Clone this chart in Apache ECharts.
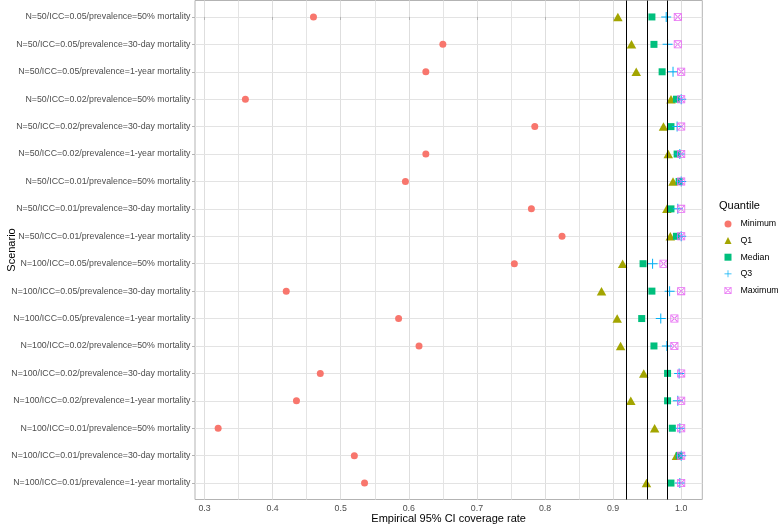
<!DOCTYPE html>
<html><head><meta charset="utf-8">
<script src="https://cdn.jsdelivr.net/npm/echarts@6/dist/echarts.min.js"></script>
<style>html,body{margin:0;padding:0;background:#fff}#c{width:778px;height:525px}</style>
</head><body><div id="c"></div>
<script>
const scenarios = [
  'N=50/ICC=0.05/prevalence=50% mortality',
  'N=50/ICC=0.05/prevalence=30-day mortality',
  'N=50/ICC=0.05/prevalence=1-year mortality',
  'N=50/ICC=0.02/prevalence=50% mortality',
  'N=50/ICC=0.02/prevalence=30-day mortality',
  'N=50/ICC=0.02/prevalence=1-year mortality',
  'N=50/ICC=0.01/prevalence=50% mortality',
  'N=50/ICC=0.01/prevalence=30-day mortality',
  'N=50/ICC=0.01/prevalence=1-year mortality',
  'N=100/ICC=0.05/prevalence=50% mortality',
  'N=100/ICC=0.05/prevalence=30-day mortality',
  'N=100/ICC=0.05/prevalence=1-year mortality',
  'N=100/ICC=0.02/prevalence=50% mortality',
  'N=100/ICC=0.02/prevalence=30-day mortality',
  'N=100/ICC=0.02/prevalence=1-year mortality',
  'N=100/ICC=0.01/prevalence=50% mortality',
  'N=100/ICC=0.01/prevalence=30-day mortality',
  'N=100/ICC=0.01/prevalence=1-year mortality'
];
const minimum = [0.460,0.650,0.625,0.360,0.785,0.625,0.595,0.780,0.825,0.755,0.420,0.585,0.615,0.470,0.435,0.320,0.520,0.535];
const q1      = [0.907,0.927,0.934,0.985,0.974,0.981,0.988,0.979,0.984,0.914,0.883,0.906,0.911,0.945,0.926,0.961,0.993,0.949];
const median  = [0.957,0.960,0.972,0.993,0.985,0.994,0.997,0.985,0.993,0.944,0.957,0.942,0.960,0.980,0.980,0.987,0.997,0.985];
const q3      = [0.978,0.980,0.988,1.000,0.994,0.998,1.000,0.995,1.000,0.958,0.983,0.970,0.979,0.997,0.995,0.998,1.000,0.998];
const maximum = [0.995,0.995,1.000,1.000,1.000,1.000,1.000,1.000,1.000,0.974,1.000,0.990,0.990,1.000,1.000,1.000,1.000,1.000];
const xTicks = [0.3,0.4,0.5,0.6,0.7,0.8,0.9,1.0];
const xMinor = [0.35,0.45,0.55,0.65,0.75,0.85,0.95];
const thresholds = [0.92,0.95,0.98];

const FONT = 'Liberation Sans, Arial, Helvetica, sans-serif';
const plusPath = 'path://M4.5,0h1v10h-1z M0,4.5h10v1h-10z';
const boxXPath = 'path://M0,0H10V10H0Z M1,1V9H9V1Z M1,1.8L1.8,1L9,8.2L8.2,9Z M9,1.8L8.2,1L1,8.2L1.8,9Z';

const rows = scenarios.map((_, i) => i);
const toPts = arr => arr.map((v, i) => [v, i]);

const chart = echarts.init(document.getElementById('c'), null, {renderer: 'canvas'});
const gridLines = [
  ...xTicks.map(v => ({xAxis: v, lineStyle: {color: '#dedede', width: 1, type: 'solid'}})),
  ...xMinor.map(v => ({xAxis: v, lineStyle: {color: '#e4e4e4', width: 1, type: 'solid'}})),
  ...rows.map(i => ({yAxis: i, lineStyle: {color: '#e3e3e3', width: 1, type: 'solid'}}))
];
const mkLine = (data, z) => ({
  silent: true, symbol: ['none', 'none'], label: {show: false}, z: z,
  lineStyle: {type: 'solid'},
  emphasis: {disabled: true}, animation: false, data: data
});
const option = {
  animation: false,
  backgroundColor: '#ffffff',
  textStyle: {fontFamily: FONT},
  title: {
    text: 'Quantile', left: 719, top: 200, padding: 0,
    textStyle: {fontSize: 11, fontWeight: 'normal', color: '#000', fontFamily: FONT}
  },
  legend: {
    orient: 'vertical', left: 724.5, top: 219, padding: 0,
    itemWidth: 7, itemHeight: 7, itemGap: 6.6,
    textStyle: {fontSize: 8.8, color: '#000', fontFamily: FONT, lineHeight: 10, padding: [0, 0, 0, 4]},
    selectedMode: false,
    data: ['Minimum', 'Q1', 'Median', 'Q3', 'Maximum']
  },
  grid: {
    left: 195, top: 0.5, width: 507.3, height: 499,
    show: true, borderColor: '#b3b3b3', borderWidth: 1, containLabel: false,
    outerBoundsMode: 'none'
  },
  xAxis: {
    type: 'value', min: 0.286, max: 1.031,
    name: 'Empirical 95% CI coverage rate', nameLocation: 'middle', nameGap: 14,
    nameMoveOverlap: false,
    nameTextStyle: {fontSize: 11, color: '#000', fontFamily: FONT},
    axisLine: {show: false},
    splitLine: {show: false},
    axisTick: {show: true, customValues: xTicks, length: 3, lineStyle: {color: '#b3b3b3'}},
    axisLabel: {customValues: xTicks, formatter: v => Number(v).toFixed(1), color: '#4d4d4d', fontSize: 8.8, margin: 4.5, fontFamily: FONT}
  },
  yAxis: {
    type: 'value', inverse: true, min: -0.6, max: 17.6,
    name: 'Scenario', nameLocation: 'middle', nameGap: 178, nameRotate: 90,
    nameMoveOverlap: false,
    nameTextStyle: {fontSize: 11, color: '#000', fontFamily: FONT},
    axisLine: {show: false},
    splitLine: {show: false},
    axisTick: {show: true, customValues: rows, length: 3, lineStyle: {color: '#b3b3b3'}},
    axisLabel: {customValues: rows, formatter: v => scenarios[Math.round(v)], color: '#4d4d4d', fontSize: 8.8, margin: 4.5, fontFamily: FONT}
  },
  series: [
    {
      type: 'scatter', name: '_grid', data: [[0.5, 0]], symbolSize: 0, silent: true, z: 0,
      markLine: mkLine(gridLines, 0)
    },
    {
      type: 'scatter', name: 'Minimum', data: toPts(minimum), symbol: 'circle', symbolSize: 7,
      itemStyle: {color: '#F8766D', opacity: 1}, z: 2
    },
    {
      type: 'scatter', name: 'Q1', data: toPts(q1), symbol: 'triangle', symbolSize: [9.5, 8.5],
      itemStyle: {color: '#A3A500', opacity: 1}, z: 3
    },
    {
      type: 'scatter', name: 'Median', data: toPts(median), symbol: 'rect', symbolSize: 7,
      itemStyle: {color: '#00BF7D', opacity: 1}, z: 4
    },
    {
      type: 'scatter', name: 'Q3', data: toPts(q3), symbol: plusPath, symbolSize: 10,
      itemStyle: {color: '#00B0F6', opacity: 1}, z: 5
    },
    {
      type: 'scatter', name: 'Maximum', data: toPts(maximum), symbol: boxXPath, symbolSize: 8,
      itemStyle: {color: '#E76BF3', opacity: 1}, z: 6
    },
    {
      type: 'scatter', name: '_thr', data: [[0.5, 0]], symbolSize: 0, silent: true, z: 10,
      markLine: mkLine(thresholds.map(v => ({xAxis: v, lineStyle: {color: '#000', width: 1, type: 'solid'}})), 10)
    }
  ]
};
chart.setOption(option);
</script>
</body></html>
